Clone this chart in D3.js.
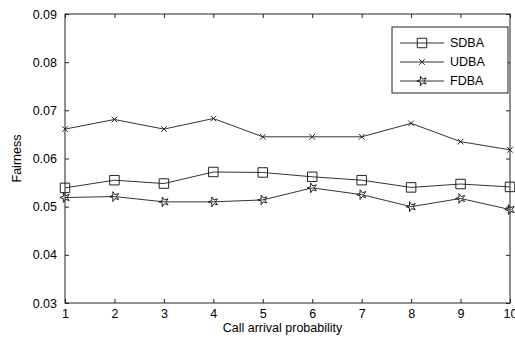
<!DOCTYPE html>
<html>
<head>
<meta charset="utf-8">
<script src="https://cdn.jsdelivr.net/npm/d3@7"></script>
<style>
  body { margin: 0; background: #fff; }
  text { font-family: "Liberation Sans", Arial, sans-serif; }
</style>
</head>
<body>
<div id="chart"></div>
<script>
  var probs = [1, 2, 3, 4, 5, 6, 7, 8, 9, 10];
  var sdba = [0.0539, 0.0555, 0.0548, 0.0572, 0.0571, 0.0562, 0.0555, 0.0540, 0.0547, 0.0541];
  var udba = [0.0661, 0.0681, 0.0661, 0.0683, 0.0645, 0.0645, 0.0645, 0.0673, 0.0635, 0.0618];
  var fdba = [0.0519, 0.0521, 0.0510, 0.0510, 0.0514, 0.0539, 0.0525, 0.0500, 0.0517, 0.0494];
  var yTicks = [0.03, 0.04, 0.05, 0.06, 0.07, 0.08, 0.09];
  var seriesNames = ["SDBA", "UDBA", "FDBA"];

  var width = 515, height = 340;
  var margin = { top: 14, right: 5, bottom: 37, left: 65 };

  var svg = d3.select("#chart").append("svg")
    .attr("width", width)
    .attr("height", height);

  var x = d3.scaleLinear().domain([1, 10]).range([margin.left, width - margin.right]);
  var y = d3.scaleLinear().domain([0.03, 0.09]).range([height - margin.bottom, margin.top]);

  // frame
  svg.append("rect")
    .attr("x", margin.left).attr("y", margin.top)
    .attr("width", x(10) - x(1)).attr("height", y(0.03) - y(0.09))
    .attr("fill", "none").attr("stroke", "#222").attr("stroke-width", 1);

  // axes, ticks pointing inward like matlab
  var ax = svg.append("g")
    .attr("transform", "translate(0," + y(0.03) + ")")
    .call(d3.axisBottom(x).tickValues(probs).tickSizeInner(-4).tickSizeOuter(0).tickPadding(8));
  var axTop = svg.append("g")
    .attr("transform", "translate(0," + y(0.09) + ")")
    .call(d3.axisTop(x).tickValues(probs).tickSizeInner(-4).tickSizeOuter(0).tickFormat(""));
  var ay = svg.append("g")
    .attr("transform", "translate(" + x(1) + ",0)")
    .call(d3.axisLeft(y).tickValues(yTicks).tickFormat(d3.format(".2f")).tickSizeInner(-4).tickSizeOuter(0).tickPadding(8));
  var ayRight = svg.append("g")
    .attr("transform", "translate(" + x(10) + ",0)")
    .call(d3.axisRight(y).tickValues(yTicks).tickSizeInner(-4).tickSizeOuter(0).tickFormat(""));

  [ax, axTop, ay, ayRight].forEach(function(g) {
    g.select(".domain").remove();
    g.selectAll("line").attr("stroke", "#222");
    g.selectAll("text").attr("font-size", "12.5px").attr("fill", "#000")
      .style("font-family", "'Liberation Sans', Arial, sans-serif");
  });
  ax.selectAll("text").attr("dy", "0.55em");

  svg.append("text")
    .attr("x", (x(1) + x(10)) / 2 - 5)
    .attr("y", 332)
    .attr("text-anchor", "middle")
    .attr("font-size", "12.5px")
    .text("Call arrival probability");

  svg.append("text")
    .attr("transform", "translate(21," + ((y(0.03) + y(0.09)) / 2) + ") rotate(-90)")
    .attr("text-anchor", "middle")
    .attr("font-size", "12.5px")
    .text("Fairness");

  var line = d3.line()
    .x(function(d, i) { return x(probs[i]); })
    .y(function(d) { return y(d); });

  var sq = d3.symbol().type(d3.symbolSquare).size(90);
  var cross = d3.symbol().type(d3.symbolX).size(22);
  var star = d3.symbol().type(d3.symbolStar).size(30);
  var shapes = [sq, cross, star];
  var allSeries = [sdba, udba, fdba];

  allSeries.forEach(function(vals, k) {
    svg.append("path")
      .datum(vals)
      .attr("d", line)
      .attr("fill", "none")
      .attr("stroke", "#333")
      .attr("stroke-width", 1);

    svg.append("g").selectAll("path")
      .data(vals)
      .enter()
      .append("path")
      .attr("transform", function(d, i) { return "translate(" + x(probs[i]) + "," + y(d) + ")" + (k == 2 ? " rotate(-90)" : ""); })
      .attr("d", shapes[k])
      .attr("fill", "none")
      .attr("stroke", "#222")
      .attr("stroke-width", 1);
  });

  // legend
  var legend = svg.append("g").attr("transform", "translate(392,27)");
  legend.append("rect")
    .attr("width", 116).attr("height", 66)
    .attr("fill", "#fff").attr("stroke", "#222");

  seriesNames.forEach(function(name, k) {
    var ly = 16 + k * 19;
    legend.append("line")
      .attr("x1", 8).attr("x2", 52).attr("y1", ly).attr("y2", ly)
      .attr("stroke", "#333");
    legend.append("path")
      .attr("transform", "translate(30," + ly + ")" + (k == 2 ? " rotate(-90)" : ""))
      .attr("d", shapes[k])
      .attr("fill", "none").attr("stroke", "#222");
    legend.append("text")
      .attr("x", 58).attr("y", ly + 4)
      .attr("font-size", "12.5px")
      .text(name);
  });
</script>
</body>
</html>
